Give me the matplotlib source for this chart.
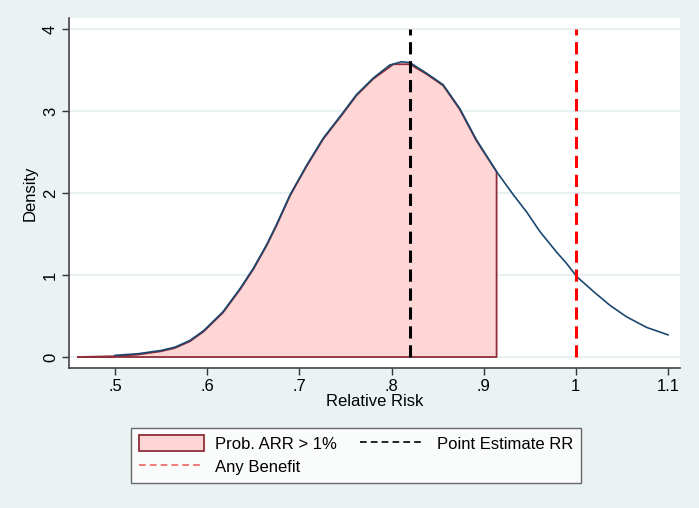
import matplotlib
matplotlib.use("Agg")
import matplotlib.pyplot as plt
from matplotlib.patches import Patch
from matplotlib.lines import Line2D

plt.rcParams['font.family'] = ['Liberation Sans', 'DejaVu Sans']

# Density curve of relative risk
rr_x = [0.500, 0.525, 0.550, 0.565, 0.581, 0.596, 0.617, 0.636, 0.650, 0.6645,
        0.675, 0.690, 0.708, 0.726, 0.748, 0.762, 0.780, 0.798, 0.811, 0.820,
        0.838, 0.856, 0.874, 0.892, 0.914, 0.932, 0.9465, 0.961, 0.979, 0.990,
        1.001, 1.019, 1.037, 1.055, 1.077, 1.100]
density = [0.02, 0.04, 0.08, 0.12, 0.20, 0.32, 0.55, 0.84, 1.08, 1.37,
           1.61, 1.98, 2.34, 2.67, 2.99, 3.20, 3.40, 3.56, 3.60, 3.59,
           3.46, 3.32, 3.03, 2.65, 2.26, 1.98, 1.77, 1.53, 1.28, 1.14,
           0.98, 0.80, 0.63, 0.49, 0.36, 0.27]

# Shaded area: Prob. ARR > 1%
fill_x = [0.460, 0.500, 0.525, 0.550, 0.565, 0.581, 0.596, 0.617, 0.636, 0.650,
          0.6645, 0.675, 0.690, 0.708, 0.726, 0.748, 0.762, 0.780, 0.802, 0.820,
          0.838, 0.856, 0.874, 0.892, 0.914]
fill_y = [0.00, 0.01, 0.03, 0.07, 0.11, 0.19, 0.31, 0.54, 0.83, 1.07,
          1.36, 1.60, 1.97, 2.33, 2.66, 2.98, 3.19, 3.39, 3.57, 3.57,
          3.45, 3.31, 3.02, 2.64, 2.26]

point_estimate = 0.82
any_benefit = 1.0

xticks = [0.5, 0.6, 0.7, 0.8, 0.9, 1.0, 1.1]
xticklabels = ['.5', '.6', '.7', '.8', '.9', '1', '1.1']
yticks = [0, 1, 2, 3, 4]

bg = '#EAF2F3'
fig = plt.figure(figsize=(6.99, 5.08), dpi=100, facecolor=bg)
ax = fig.add_axes([0.0987, 0.2756, 0.8741, 0.689])
ax.set_facecolor('white')

for y in yticks:
    ax.axhline(y, color='#E4EEF0', lw=1.2, zorder=0)

ax.fill_between(fill_x + [fill_x[-1]], fill_y + [0.0], 0, facecolor='#FFD6D6',
                edgecolor='none', zorder=1)
ax.plot(fill_x + [fill_x[-1], fill_x[0]], fill_y + [0.0, 0.0], color='#8E2E3A',
        lw=1.3, zorder=2)
ax.plot(rr_x, density, color='#1A476F', lw=1.2, zorder=3)

ax.plot([point_estimate, point_estimate], [0, 4], color='black', lw=2.2,
        dashes=(4, 2.2), zorder=4)
ax.plot([any_benefit, any_benefit], [0, 4], color='#FF0000', lw=2.2,
        dashes=(4, 2.2), zorder=4)

ax.set_xlim(0.45, 1.113)
ax.set_ylim(-0.134, 4.134)
ax.set_xticks(xticks)
ax.set_xticklabels(xticklabels)
ax.set_yticks(yticks)
ax.set_yticklabels([str(v) for v in yticks], rotation=90, va='center')
ax.tick_params(axis='both', direction='out', length=5, width=1, color='#333333',
               labelsize=12, pad=3)
for s in ['top', 'right']:
    ax.spines[s].set_visible(False)
for s in ['left', 'bottom']:
    ax.spines[s].set_color('#444444')
    ax.spines[s].set_linewidth(1.2)

ax.set_xlabel('Relative Risk', fontsize=12, labelpad=0)
ax.set_ylabel('Density', fontsize=12, labelpad=4)

h_fill = Patch(facecolor='#FFD6D6', edgecolor='#8E2E3A', lw=1.3, label='Prob. ARR > 1%')
h_any = Line2D([], [], color='#F06060', lw=1.2, dashes=(4, 2.5), label='Any Benefit')
h_pt = Line2D([], [], color='black', lw=1.2, dashes=(4, 2.5), label='Point Estimate RR')
leg = fig.legend(handles=[h_fill, h_any, h_pt], ncol=2, loc='center',
                 bbox_to_anchor=(356 / 699, 1 - 455 / 508), frameon=True,
                 fancybox=False, edgecolor='#444444', fontsize=12,
                 handlelength=3.9, handleheight=1.1, columnspacing=1.4,
                 borderpad=0.45, labelspacing=0.4, handletextpad=0.7)
leg.get_frame().set_linewidth(1.0)

fig.savefig('out.png', dpi=100, facecolor=bg)
